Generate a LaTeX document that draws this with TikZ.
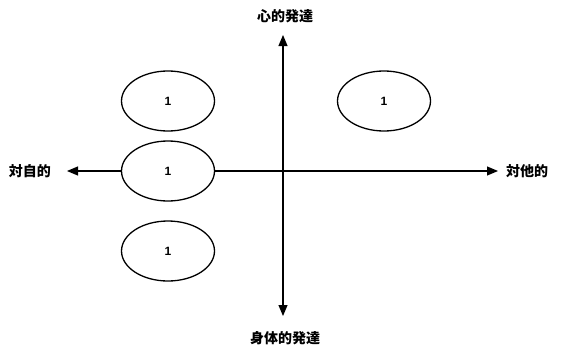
\documentclass[tikz,border=0pt]{standalone}
\usepackage{fontspec}
\newfontfamily\jp{Noto Sans CJK JP}
\setsansfont{Liberation Sans}
\usetikzlibrary{arrows.meta,shapes.geometric}
\tikzset{
  axis/.style={line width=1.1pt,-{Triangle[length=11pt,width=9pt]}},
  blob/.style={ellipse,draw,line width=1.3pt,fill=white,minimum width=93pt,minimum height=60pt,inner sep=0pt,font=\sffamily\bfseries\fontsize{12}{14}\selectfont},
  lab/.style={font=\jp\bfseries\fontsize{14}{16}\selectfont,inner sep=0pt}
}
\begin{document}
\begin{tikzpicture}[x=1pt,y=-1pt]
\useasboundingbox (0,0) rectangle (561,356);
\coordinate (c) at (283,171);
\coordinate (tt) at (283,35);
\coordinate (bt) at (283,316);
\coordinate (lt) at (67,171);
\coordinate (rt) at (498,171);
\draw[axis] (c) -- (tt);
\draw[axis] (c) -- (bt);
\draw[axis] (c) -- (lt);
\draw[axis] (c) -- (rt);
\node[lab] (top) at (285,16) {心的発達};
\node[lab] (bot) at (285,338) {身体的発達};
\node[lab] (left) at (30,171) {対自的};
\node[lab] (right) at (527,171) {対他的};
\node[blob] (e1) at (168,101) {1};
\node[blob] (e2) at (168,171) {1};
\node[blob] (e3) at (168,251) {1};
\node[blob] (e4) at (384,101) {1};
\end{tikzpicture}
\end{document}
